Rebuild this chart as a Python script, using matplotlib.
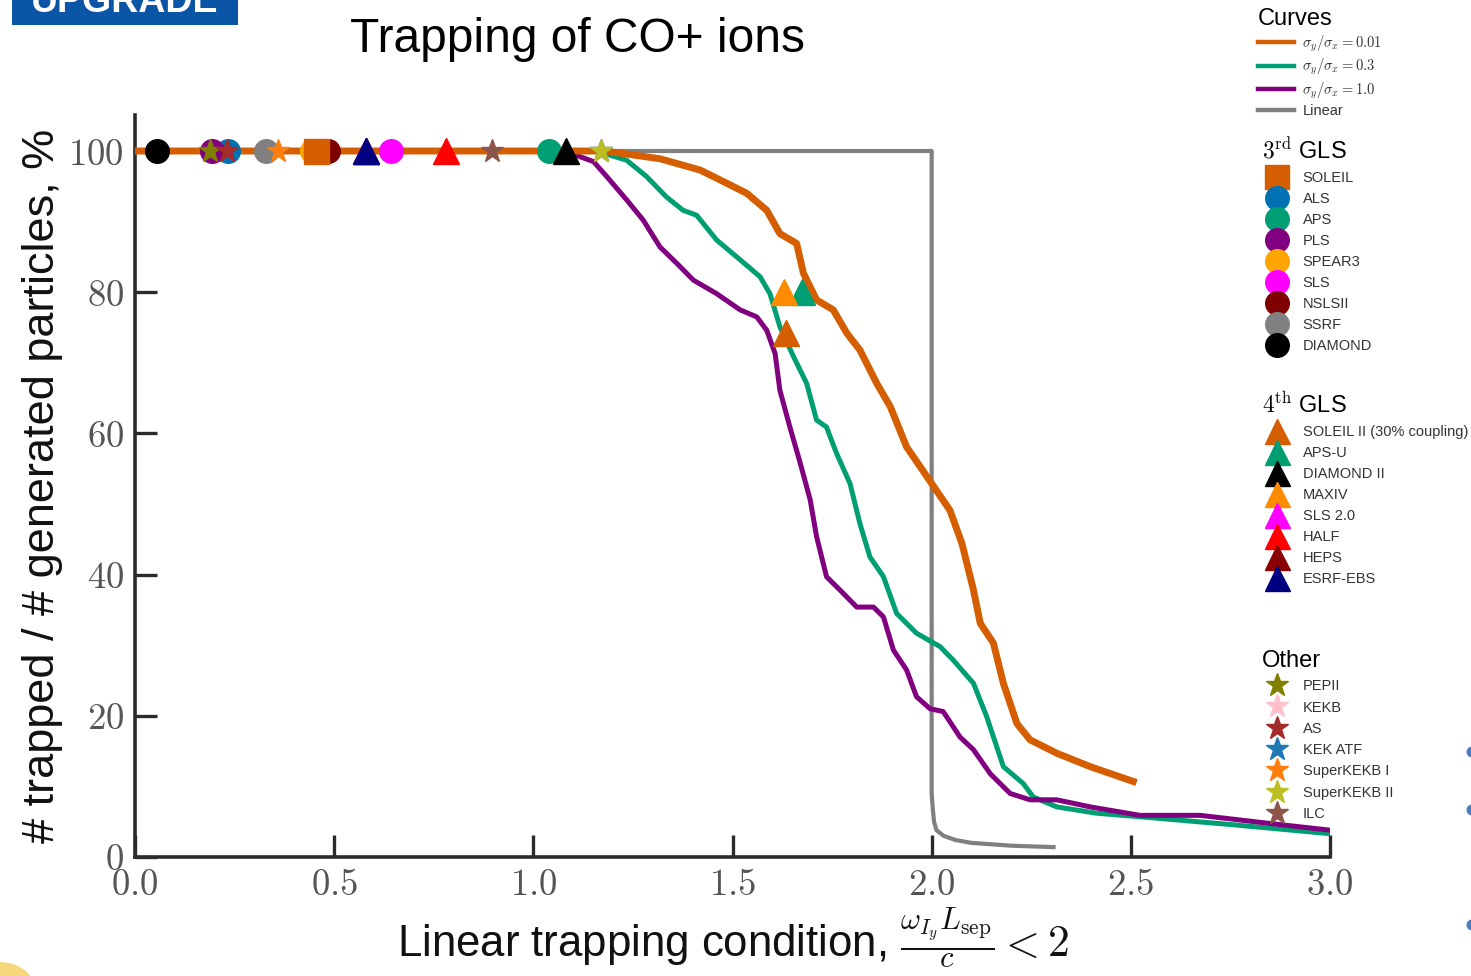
import matplotlib
matplotlib.use("Agg")
import matplotlib.pyplot as plt
from matplotlib.lines import Line2D
from matplotlib.patches import Rectangle, Ellipse

plt.rcParams["font.family"] = ["Liberation Sans", "DejaVu Sans"]
plt.rcParams["mathtext.fontset"] = "cm"

# trapped fraction curves (x: linear trapping condition, y: % trapped)
x_001 = [0.0, 1.17, 1.193, 1.318, 1.419, 1.469, 1.536, 1.586, 1.619, 1.661, 1.678, 1.711,
         1.753, 1.787, 1.820, 1.862, 1.896, 1.937, 2.0, 2.046, 2.076, 2.105, 2.122, 2.155,
         2.18, 2.214, 2.247, 2.314, 2.398, 2.506]
y_001 = [100.0, 100.0, 99.9, 98.9, 97.3, 95.9, 94.0, 91.6, 88.3, 86.9, 82.7, 78.9,
         77.5, 74.2, 71.8, 67.1, 63.8, 58.1, 52.9, 49.1, 44.4, 37.8, 33.1, 30.3,
         24.6, 18.9, 16.6, 14.7, 12.8, 10.7]

x_03 = [0.0, 1.15, 1.193, 1.234, 1.284, 1.334, 1.376, 1.41, 1.46, 1.519, 1.569, 1.594,
        1.619, 1.653, 1.686, 1.711, 1.736, 1.761, 1.795, 1.82, 1.845, 1.879, 1.912,
        1.962, 2.021, 2.054, 2.105, 2.138, 2.18, 2.23, 2.255, 2.314, 2.414, 2.523,
        2.75, 3.0]
y_03 = [100.0, 100.0, 99.4, 98.7, 96.4, 93.5, 91.6, 90.9, 87.4, 84.6, 82.2, 79.8,
        75.1, 70.9, 67.1, 61.9, 60.9, 57.2, 52.9, 47.2, 42.5, 39.7, 34.5,
        31.7, 29.8, 27.9, 24.6, 19.9, 12.8, 10.4, 8.5, 7.1, 6.2, 5.7,
        4.6, 3.3]

x_10 = [0.0, 1.08, 1.117, 1.151, 1.184, 1.234, 1.276, 1.318, 1.36, 1.402, 1.46, 1.519,
        1.561, 1.586, 1.607, 1.619, 1.644, 1.67, 1.695, 1.711, 1.736, 1.77, 1.812,
        1.854, 1.879, 1.904, 1.937, 1.962, 1.996, 2.029, 2.071, 2.105, 2.147, 2.197,
        2.247, 2.314, 2.398, 2.523, 2.674, 2.841, 3.0]
y_10 = [100.0, 100.0, 99.2, 98.5, 96.4, 93.1, 90.2, 86.4, 84.1, 81.7, 79.8, 77.5,
        76.5, 74.6, 71.3, 66.1, 60.9, 55.8, 50.6, 45.4, 39.7, 37.8, 35.4,
        35.4, 34.0, 29.3, 26.5, 22.7, 21.0, 20.6, 17.0, 15.2, 11.8, 9.0,
        8.1, 8.1, 7.1, 5.9, 5.9, 4.8, 3.8]

x_lin = [0.0, 2.0, 2.0, 2.003, 2.006, 2.012, 2.03, 2.06, 2.1, 2.2, 2.306]
y_lin = [100.0, 100.0, 9.0, 6.7, 5.0, 3.8, 3.0, 2.4, 2.0, 1.6, 1.4]

# machines: names, positions on the chart and colours
gls3_names = ["SOLEIL", "ALS", "APS", "PLS", "SPEAR3", "SLS", "NSLSII", "SSRF", "DIAMOND"]
gls3_x = [0.454, 0.233, 1.039, 0.193, 0.445, 0.643, 0.485, 0.329, 0.055]
gls3_y = [100, 100, 100, 100, 100, 100, 100, 100, 100]
gls3_colors = ["#d55e00", "#0072b2", "#009e73", "#800080", "#ffa500", "#ff00ff",
               "#800000", "#808080", "#000000"]
gls3_markers = ["s", "o", "o", "o", "o", "o", "o", "o", "o"]

gls4_names = ["SOLEIL II (30% coupling)", "APS-U", "DIAMOND II", "MAXIV", "SLS 2.0",
              "HALF", "HEPS", "ESRF-EBS"]
gls4_x = [1.634, 1.675, 1.082, 1.629, 0.58, 0.781, 0.58, 0.58]
gls4_y = [74.2, 80.0, 100, 80.0, 100, 100, 100, 100]
gls4_colors = ["#d55e00", "#009e73", "#000000", "#ff8c00", "#ff00ff", "#ff0000",
               "#8b0000", "#000080"]

other_names = ["PEPII", "KEKB", "AS", "KEK ATF", "SuperKEKB I", "SuperKEKB II", "ILC"]
other_x = [0.188, 1.17, 0.231, 1.17, 0.359, 1.17, 0.896]
other_y = [100, 100, 100, 100, 100, 100, 100]
other_colors = ["#808000", "#ffc0cb", "#a52a2a", "#1f77b4", "#ff7f0e", "#bcbd22", "#8c564b"]

x_ticks = [0.0, 0.5, 1.0, 1.5, 2.0, 2.5, 3.0]
y_ticks = [0, 20, 40, 60, 80, 100]

W, H = 1471, 976
fig = plt.figure(figsize=(W / 100, H / 100), dpi=100)
ax = fig.add_axes([135 / W, 1 - 857 / H, (1330 - 135) / W, (857 - 115) / H])

ax.plot(x_lin, y_lin, color="#808080", lw=3.0, zorder=2, solid_joinstyle="round")
ax.plot(x_03, y_03, color="#009e73", lw=3.6, zorder=3)
ax.plot(x_10, y_10, color="#800080", lw=3.6, zorder=3.2)
ax.plot(x_001, y_001, color="#d55e00", lw=5.0, zorder=3.5)

# 3rd generation sources: circles first, SOLEIL square on top
for xv, yv, c, m in zip(gls3_x, gls3_y, gls3_colors, gls3_markers):
    ms = 18 if m == "s" else 17
    ax.plot([xv], [yv], marker=m, ms=ms, color=c, mec=c, ls="", zorder=5 if m == "s" else 4,
            clip_on=False)

# 4th generation sources
for i, (xv, yv, c) in enumerate(zip(gls4_x, gls4_y, gls4_colors)):
    ax.plot([xv], [yv], marker="^", ms=18.5, color=c, mec=c, ls="", zorder=4 + 0.01 * i,
            clip_on=False)

# other machines
for i, (xv, yv, c) in enumerate(zip(other_x, other_y, other_colors)):
    ax.plot([xv], [yv], marker="*", ms=17, color=c, mec=c, ls="", zorder=6 + 0.01 * i,
            clip_on=False)

ax.set_xlim(0, 3.0)
ax.set_ylim(0, 105.1)
ax.set_xticks(x_ticks)
ax.set_xticklabels([f"${v:.1f}$" for v in x_ticks])
ax.set_yticks(y_ticks)
ax.set_yticklabels([f"${v}$" for v in y_ticks])
ax.tick_params(direction="in", length=16, width=2.4, color="#2b2b2b",
               labelsize=26.5, labelcolor="#555555", pad=8)
for side in ["top", "right"]:
    ax.spines[side].set_visible(False)
for side in ["left", "bottom"]:
    ax.spines[side].set_linewidth(2.6)
    ax.spines[side].set_color("#2b2b2b")

ax.set_ylabel("# trapped / # generated particles, %", fontsize=32.5, color="#111111",
              labelpad=4)
ax.set_xlabel(r"Linear trapping condition, $\frac{\omega_{I_y} L_{\rm sep}}{c} < 2$",
              fontsize=31.5, color="#111111", labelpad=2)

fig.text(577 / W, 1 - 40 / H, "Trapping of CO+ ions", fontsize=34.5, ha="center", va="center")

# legends on the right
curve_handles = [
    Line2D([], [], color="#d55e00", lw=3.2),
    Line2D([], [], color="#009e73", lw=3.2),
    Line2D([], [], color="#800080", lw=3.2),
    Line2D([], [], color="#808080", lw=3.2),
]
curve_labels = [r"$\sigma_y/\sigma_x = 0.01$", r"$\sigma_y/\sigma_x = 0.3$",
                r"$\sigma_y/\sigma_x = 1.0$", "Linear"]

leg_kw = dict(frameon=False, loc="upper left", borderpad=0, borderaxespad=0,
              fontsize=10.5, title_fontsize=17, alignment="left", labelcolor="#333333")

fig.legend(curve_handles, curve_labels, bbox_to_anchor=(1258 / W, 1 - 8 / H),
           title="Curves", handlelength=2.5, handletextpad=0.55, labelspacing=0.22, **leg_kw)

h3 = [Line2D([], [], marker=m, ms=17, color=c, mec=c, ls="")
      for c, m in zip(gls3_colors, gls3_markers)]
fig.legend(h3, gls3_names, bbox_to_anchor=(1262 / W, 1 - 138 / H),
           title=r"$3^{\rm rd}$ GLS", handlelength=2.0, handletextpad=0.8, labelspacing=0.48,
           **leg_kw)

h4 = [Line2D([], [], marker="^", ms=18, color=c, mec=c, ls="") for c in gls4_colors]
fig.legend(h4, gls4_names, bbox_to_anchor=(1262 / W, 1 - 392 / H),
           title=r"$4^{\rm th}$ GLS", handlelength=2.0, handletextpad=0.8, labelspacing=0.48,
           **leg_kw)

ho = [Line2D([], [], marker="*", ms=17, color=c, mec=c, ls="") for c in other_colors]
fig.legend(ho, other_names, bbox_to_anchor=(1262 / W, 1 - 650 / H),
           title="Other", handlelength=2.0, handletextpad=0.8, labelspacing=0.5, **leg_kw)

# slide decorations around the chart
fig.patches.append(Rectangle((12 / W, 1 - 25 / H), 226 / W, 25 / H, transform=fig.transFigure,
                             facecolor="#0b55a6", edgecolor="none"))
fig.text(125 / W, 1 - 12 / H, "UPGRADE", fontsize=27, fontweight="bold", color="white",
         ha="center", va="baseline")
for yy in [752, 810, 925]:
    fig.patches.append(Ellipse((1472 / W, 1 - yy / H), 11 / W, 11 / H, transform=fig.transFigure,
                               facecolor="#4a7cc4", edgecolor="none"))
fig.patches.append(Ellipse((0 / W, 1 - 990 / H), 70 / W, 56 / H, transform=fig.transFigure,
                           facecolor="#f6d77c", edgecolor="none"))

fig.savefig("out.png", dpi=100)
